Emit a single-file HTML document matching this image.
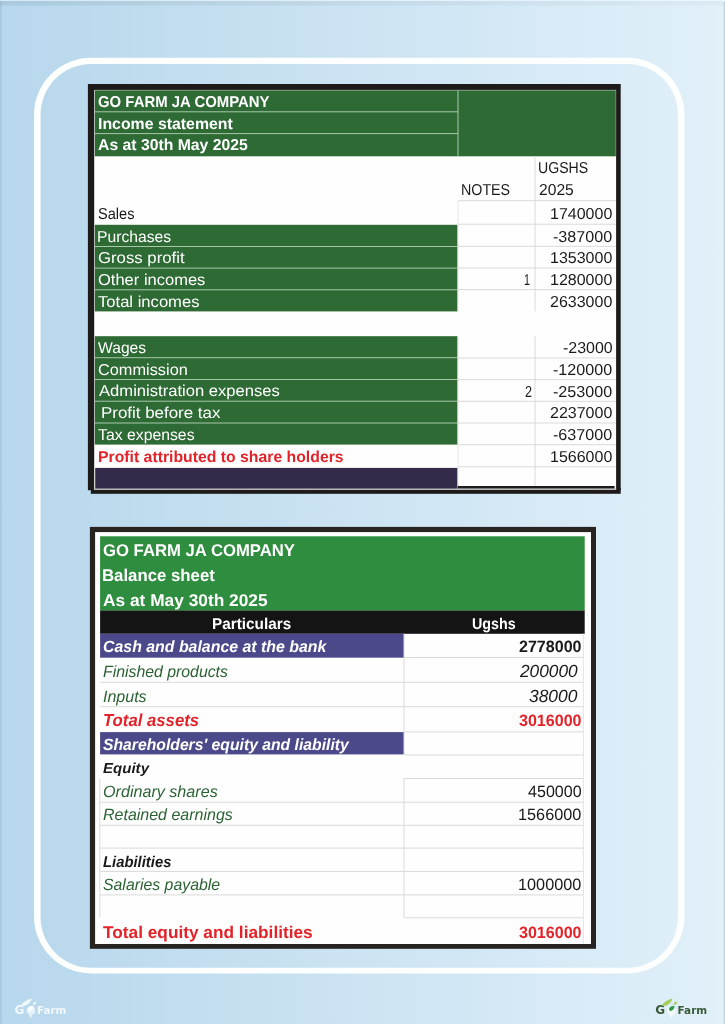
<!DOCTYPE html>
<html lang="en"><head><meta charset="utf-8"><title>GO FARM JA COMPANY</title>
<style>
html,body{margin:0;padding:0}
body{width:725px;height:1024px;position:relative;overflow:hidden;font-family:"Liberation Sans",sans-serif;
background:linear-gradient(90deg,#b7d7ec 0%,#e1f0f9 100%);}
.abs{position:absolute}
.t{position:absolute;white-space:pre;line-height:20px;height:20px;transform-origin:0 0;text-rendering:geometricPrecision}
</style></head>
<body>
<svg class="abs" style="left:0;top:0" width="725" height="1024" viewBox="0 0 725 1024">
<defs><linearGradient id="tg" x1="0" x2="1" y1="0" y2="0"><stop offset="0" stop-color="#5d7686" stop-opacity="0.14"/><stop offset="0.6" stop-color="#5d7686" stop-opacity="0.08"/><stop offset="1" stop-color="#5d7686" stop-opacity="0.04"/></linearGradient></defs>
<rect x="0" y="0" width="725" height="1" fill="#ffffff" fill-opacity="0.45"/>
<rect x="0" y="1" width="725" height="4.5" fill="url(#tg)"/>
<rect x="0" y="1" width="1.6" height="1023" fill="#5d7686" fill-opacity="0.15"/>
<rect x="723.6" y="2" width="1.4" height="1022" fill="#7d8f8f" fill-opacity="0.28"/>
<path fill="#fdfefe" fill-rule="evenodd" d="M91 57.8 H627.5 A57 57 0 0 1 684.5 114.8 V916.4 A57 57 0 0 1 627.5 973.4 H91 A57 57 0 0 1 34 916.4 V114.8 A57 57 0 0 1 91 57.8 Z M91.2 64 H627.3 A50.6 50.6 0 0 1 677.9 114.6 V917.1999999999999 A50.6 50.6 0 0 1 627.3 967.8 H91.2 A50.6 50.6 0 0 1 40.6 917.1999999999999 V114.6 A50.6 50.6 0 0 1 91.2 64 Z"/>
<rect x="87.9" y="84" width="532.8" height="406.2" fill="#1d1b1a"/>
<rect x="90.8" y="488" width="529.9" height="5.8" fill="#1d1b1a"/>
<rect x="94.2" y="89.9" width="521.9" height="400.1" fill="#fefefe"/>
<rect x="94.2" y="488.5" width="521.9" height="1.5" fill="#b9b9b9"/>
<rect x="458" y="486" width="156.6" height="2.5" fill="#1f1d1c"/>
<rect x="94.8" y="90.3" width="521.0" height="66.0" fill="#2d6a34"/>
<rect x="94.8" y="111.3" width="363.2" height="1.0" fill="#a9c8ab"/>
<rect x="94.8" y="133.1" width="363.2" height="1.0" fill="#a9c8ab"/>
<rect x="457.5" y="90.3" width="1.0" height="66.0" fill="#a9c8ab"/>
<rect x="94.8" y="224.8" width="362.8" height="86.6" fill="#2d6a34"/>
<rect x="94.8" y="246.0" width="362.8" height="1.0" fill="#a9c8ab"/>
<rect x="94.8" y="267.6" width="362.8" height="1.0" fill="#a9c8ab"/>
<rect x="94.8" y="289.3" width="362.8" height="1.0" fill="#a9c8ab"/>
<rect x="94.8" y="336.2" width="362.8" height="108.4" fill="#2d6a34"/>
<rect x="94.8" y="357.2" width="362.8" height="1.0" fill="#a9c8ab"/>
<rect x="94.8" y="379.0" width="362.8" height="1.0" fill="#a9c8ab"/>
<rect x="94.8" y="400.7" width="362.8" height="1.0" fill="#a9c8ab"/>
<rect x="94.8" y="422.5" width="362.8" height="1.0" fill="#a9c8ab"/>
<rect x="95.2" y="467.9" width="362.4" height="20.7" fill="#342b4b"/>
<rect x="458" y="200.2" width="158" height="1.0" fill="#d9d9d9"/>
<rect x="458" y="223.7" width="158" height="1.0" fill="#d9d9d9"/>
<rect x="458" y="245.8" width="158" height="1.0" fill="#d9d9d9"/>
<rect x="458" y="267.5" width="158" height="1.0" fill="#d9d9d9"/>
<rect x="458" y="289.1" width="158" height="1.0" fill="#d9d9d9"/>
<rect x="458" y="357.5" width="158" height="1.0" fill="#d9d9d9"/>
<rect x="458" y="379.2" width="158" height="1.0" fill="#d9d9d9"/>
<rect x="458" y="400.8" width="158" height="1.0" fill="#d9d9d9"/>
<rect x="458" y="422.5" width="158" height="1.0" fill="#d9d9d9"/>
<rect x="458" y="444.2" width="158" height="1.0" fill="#d9d9d9"/>
<rect x="458" y="466.3" width="158" height="1.0" fill="#d9d9d9"/>
<rect x="534.5" y="156" width="1.0" height="155.4" fill="#d9d9d9"/>
<rect x="534.5" y="336.2" width="1.0" height="149.8" fill="#d9d9d9"/>
<rect x="457.5" y="200.7" width="1.0" height="110.7" fill="#e6e6e6"/>
<rect x="457.5" y="336.2" width="1.0" height="149.8" fill="#e6e6e6"/>
<rect x="89.9" y="526.9" width="506.1" height="421.9" fill="#262321"/>
<rect x="95.1" y="532.1" width="495.9" height="411.9" fill="#fefefe"/>
<rect x="100.1" y="536.3" width="484.6" height="74.3" fill="#2e8d3e"/>
<rect x="100.1" y="610.5" width="484.6" height="23.3" fill="#151414"/>
<rect x="100.1" y="633.7" width="303.9" height="24.0" fill="#4c498a"/>
<rect x="100.1" y="732.1" width="303.9" height="22.3" fill="#4c498a"/>
<rect x="404" y="656.9" width="180" height="1.0" fill="#d9d9d9"/>
<rect x="404" y="731.4" width="180" height="1.0" fill="#d9d9d9"/>
<rect x="404" y="754.5" width="180" height="1.0" fill="#d9d9d9"/>
<rect x="404" y="778.0" width="180" height="1.0" fill="#d9d9d9"/>
<rect x="404" y="917.3" width="180" height="1.0" fill="#d9d9d9"/>
<rect x="100.1" y="681.8" width="483.9" height="1.0" fill="#d9d9d9"/>
<rect x="100.1" y="706.2" width="483.9" height="1.0" fill="#d9d9d9"/>
<rect x="100.1" y="801.7" width="483.9" height="1.0" fill="#d9d9d9"/>
<rect x="100.1" y="824.8" width="483.9" height="1.0" fill="#d9d9d9"/>
<rect x="100.1" y="847.6" width="483.9" height="1.0" fill="#d9d9d9"/>
<rect x="100.1" y="870.9" width="483.9" height="1.0" fill="#d9d9d9"/>
<rect x="100.1" y="894.4" width="483.9" height="1.0" fill="#d9d9d9"/>
<rect x="403.5" y="633.7" width="1.0" height="121.3" fill="#d9d9d9"/>
<rect x="403.5" y="778.5" width="1.0" height="139.3" fill="#d9d9d9"/>
<rect x="582.9" y="633.7" width="1.0" height="310.3" fill="#e4e4e4"/>
<rect x="99.3" y="778.5" width="1.0" height="139.0" fill="#d9d9d9"/>
<g transform="translate(14.3 996)">
<text x="0.2" y="18.1" font-family="DejaVu Sans, sans-serif" font-weight="700" font-size="12" fill="#f1f8fc">G</text>
<circle cx="16.6" cy="14.6" r="4.4" fill="#e6f2f9"/>
<path d="M6.5 9.5 C9 6 13 3.5 17.5 2.5 C16.5 6.5 13 9.5 9.5 10 Z" fill="#eef7fc"/>
<path d="M18.5 7.5 C19.5 6 21 5.5 22.5 5.8 C22 7.8 20.5 9 18.8 9 Z" fill="#eef7fc"/>
<path d="M14 12.5 C15.5 10.2 17.8 9.6 19.6 10.4 C19.2 13.2 17.2 15 14.6 15 Z" fill="#ffffff"/>
<path d="M14.5 18.5 L16.5 22.5 L18 18.8 Z" fill="#e6f2f9"/>
<text x="22.6" y="18.1" font-family="DejaVu Sans, sans-serif" font-weight="700" font-size="10" fill="#f1f8fc" textLength="29.6" lengthAdjust="spacingAndGlyphs">Farm</text>
</g>
<g transform="translate(655 996)">
<text x="0.2" y="18.1" font-family="DejaVu Sans, sans-serif" font-weight="700" font-size="12" fill="#3a5a36">G</text>
<circle cx="16.6" cy="14.6" r="4.4" fill="#f3f9fb"/>
<path d="M6.5 9.5 C9 6 13 3.5 17.5 2.5 C16.5 6.5 13 9.5 9.5 10 Z" fill="#a5cf5c"/>
<path d="M18.5 7.5 C19.5 6 21 5.5 22.5 5.8 C22 7.8 20.5 9 18.8 9 Z" fill="#a5cf5c"/>
<path d="M14 12.5 C15.5 10.2 17.8 9.6 19.6 10.4 C19.2 13.2 17.2 15 14.6 15 Z" fill="#2f9a48"/>
<path d="M14.5 18.5 L16.5 22.5 L18 18.8 Z" fill="#f3f9fb"/>
<text x="22.6" y="18.1" font-family="DejaVu Sans, sans-serif" font-weight="700" font-size="10" fill="#3a5a36" textLength="29.6" lengthAdjust="spacingAndGlyphs">Farm</text>
</g>
</svg>
<div class="t" style="left:97.89px;top:93px;font-size:15.8px;font-weight:700;color:#ffffff;transform:scaleX(0.944);">GO FARM JA COMPANY</div>
<div class="t" style="left:97.6px;top:115px;font-size:15.8px;font-weight:700;color:#ffffff;transform:scaleX(1.0034);">Income statement</div>
<div class="t" style="left:98.1px;top:136px;font-size:15.8px;font-weight:700;color:#ffffff;transform:scaleX(0.9977);">As at 30th May 2025</div>
<div class="t" style="left:460.67px;top:181px;font-size:15.8px;font-weight:400;color:#1a1a1a;transform:scaleX(0.9029);">NOTES</div>
<div class="t" style="left:538.18px;top:159px;font-size:15.8px;font-weight:400;color:#1a1a1a;transform:scaleX(0.8922);">UGSHS</div>
<div class="t" style="left:538.56px;top:181px;font-size:15.8px;font-weight:400;color:#1a1a1a;transform:scaleX(0.9896);">2025</div>
<div class="t" style="left:97.91px;top:205px;font-size:15.8px;font-weight:400;color:#1a1a1a;transform:scaleX(0.9229);">Sales</div>
<div class="t" style="left:97.36px;top:228px;font-size:15.8px;font-weight:400;color:#ffffff;transform:scaleX(0.9938);">Purchases</div>
<div class="t" style="left:97.8px;top:249px;font-size:15.8px;font-weight:400;color:#ffffff;transform:scaleX(1.0601);">Gross profit</div>
<div class="t" style="left:97.82px;top:271px;font-size:15.8px;font-weight:400;color:#ffffff;transform:scaleX(1.0453);">Other incomes</div>
<div class="t" style="left:98.34px;top:293px;font-size:15.8px;font-weight:400;color:#ffffff;transform:scaleX(1.0507);">Total incomes</div>
<div class="t" style="left:98.35px;top:339px;font-size:15.8px;font-weight:400;color:#ffffff;transform:scaleX(0.9906);">Wages</div>
<div class="t" style="left:97.82px;top:361px;font-size:15.8px;font-weight:400;color:#ffffff;transform:scaleX(1.0334);">Commission</div>
<div class="t" style="left:98.6px;top:382px;font-size:15.8px;font-weight:400;color:#ffffff;transform:scaleX(1.0507);">Administration expenses</div>
<div class="t" style="left:101.26px;top:404px;font-size:15.8px;font-weight:400;color:#ffffff;transform:scaleX(1.0709);">Profit before tax</div>
<div class="t" style="left:98.35px;top:426px;font-size:15.8px;font-weight:400;color:#ffffff;transform:scaleX(0.9995);">Tax expenses</div>
<div class="t" style="left:97.6px;top:448px;font-size:15.8px;font-weight:700;color:#e3232a;transform:scaleX(0.9994);">Profit attributed to share holders</div>
<div class="t" style="left:550.23px;top:205px;font-size:15.8px;font-weight:400;color:#1a1a1a;transform:scaleX(1.0134);">1740000</div>
<div class="t" style="left:553.44px;top:228px;font-size:15.8px;font-weight:400;color:#1a1a1a;transform:scaleX(1.0195);">-387000</div>
<div class="t" style="left:550.23px;top:249px;font-size:15.8px;font-weight:400;color:#1a1a1a;transform:scaleX(1.0134);">1353000</div>
<div class="t" style="left:524.45px;top:271px;font-size:15.8px;font-weight:400;color:#1a1a1a;transform:scaleX(0.6815);">1</div>
<div class="t" style="left:550.23px;top:271px;font-size:15.8px;font-weight:400;color:#1a1a1a;transform:scaleX(1.0134);">1280000</div>
<div class="t" style="left:550.24px;top:293px;font-size:15.8px;font-weight:400;color:#1a1a1a;transform:scaleX(1.0133);">2633000</div>
<div class="t" style="left:562.74px;top:339px;font-size:15.8px;font-weight:400;color:#1a1a1a;transform:scaleX(1.0115);">-23000</div>
<div class="t" style="left:553.44px;top:361px;font-size:15.8px;font-weight:400;color:#1a1a1a;transform:scaleX(1.0195);">-120000</div>
<div class="t" style="left:525.0px;top:383px;font-size:15.8px;font-weight:400;color:#1a1a1a;transform:scaleX(0.8);">2</div>
<div class="t" style="left:553.44px;top:383px;font-size:15.8px;font-weight:400;color:#1a1a1a;transform:scaleX(1.0195);">-253000</div>
<div class="t" style="left:550.24px;top:404px;font-size:15.8px;font-weight:400;color:#1a1a1a;transform:scaleX(1.0133);">2237000</div>
<div class="t" style="left:553.44px;top:426px;font-size:15.8px;font-weight:400;color:#1a1a1a;transform:scaleX(1.0195);">-637000</div>
<div class="t" style="left:550.23px;top:448px;font-size:15.8px;font-weight:400;color:#1a1a1a;transform:scaleX(1.0134);">1566000</div>
<div class="t" style="left:102.96px;top:541px;font-size:17.0px;font-weight:700;color:#ffffff;transform:scaleX(0.982);">GO FARM JA COMPANY</div>
<div class="t" style="left:102.47px;top:566px;font-size:17.0px;font-weight:700;color:#ffffff;transform:scaleX(0.9867);">Balance sheet</div>
<div class="t" style="left:103.19px;top:591px;font-size:17.0px;font-weight:700;color:#ffffff;transform:scaleX(1.0187);">As at May 30th 2025</div>
<div class="t" style="left:212.12px;top:615px;font-size:15.6px;font-weight:700;color:#ffffff;transform:scaleX(0.9823);">Particulars</div>
<div class="t" style="left:472.08px;top:615px;font-size:15.6px;font-weight:700;color:#ffffff;transform:scaleX(0.9196);">Ugshs</div>
<div class="t" style="left:102.97px;top:637px;font-size:16.3px;font-weight:700;color:#ffffff;transform:scaleX(0.9757);font-style:italic;">Cash and balance at the bank</div>
<div class="t" style="left:518.71px;top:637px;font-size:16.4px;font-weight:700;color:#1a1a1a;transform:scaleX(0.9801);">2778000</div>
<div class="t" style="left:103.21px;top:662px;font-size:16.3px;font-weight:400;color:#2b6233;transform:scaleX(0.9722);font-style:italic;">Finished products</div>
<div class="t" style="left:519.8px;top:661px;font-size:17.7px;font-weight:400;color:#1a1a1a;transform:scaleX(0.9763);font-style:italic;">200000</div>
<div class="t" style="left:102.96px;top:687px;font-size:16.3px;font-weight:400;color:#2b6233;transform:scaleX(0.9827);font-style:italic;">Inputs</div>
<div class="t" style="left:529.21px;top:686px;font-size:17.7px;font-weight:400;color:#1a1a1a;transform:scaleX(0.9835);font-style:italic;">38000</div>
<div class="t" style="left:102.5px;top:710px;font-size:17.4px;font-weight:700;color:#e3232a;transform:scaleX(0.9622);font-style:italic;">Total assets</div>
<div class="t" style="left:518.71px;top:711px;font-size:16.4px;font-weight:700;color:#e3232a;transform:scaleX(0.9801);">3016000</div>
<div class="t" style="left:103.46px;top:735px;font-size:16.3px;font-weight:700;color:#ffffff;transform:scaleX(0.9657);font-style:italic;">Shareholders' equity and liability</div>
<div class="t" style="left:103.44px;top:759px;font-size:14.4px;font-weight:700;color:#1a1a1a;transform:scaleX(1.0463);font-style:italic;">Equity</div>
<div class="t" style="left:102.71px;top:782px;font-size:16.3px;font-weight:400;color:#2b6233;transform:scaleX(0.9904);font-style:italic;">Ordinary shares</div>
<div class="t" style="left:527.85px;top:782px;font-size:16.4px;font-weight:400;color:#1a1a1a;transform:scaleX(0.9805);">450000</div>
<div class="t" style="left:103.21px;top:805px;font-size:16.3px;font-weight:400;color:#2b6233;transform:scaleX(0.9821);font-style:italic;">Retained earnings</div>
<div class="t" style="left:517.86px;top:805px;font-size:16.4px;font-weight:400;color:#1a1a1a;transform:scaleX(0.9935);">1566000</div>
<div class="t" style="left:103.46px;top:853px;font-size:15.5px;font-weight:700;color:#1a1a1a;transform:scaleX(0.9569);font-style:italic;">Liabilities</div>
<div class="t" style="left:103.21px;top:875px;font-size:16.3px;font-weight:400;color:#2b6233;transform:scaleX(0.9727);font-style:italic;">Salaries payable</div>
<div class="t" style="left:517.86px;top:875px;font-size:16.4px;font-weight:400;color:#1a1a1a;transform:scaleX(0.9935);">1000000</div>
<div class="t" style="left:103.45px;top:923px;font-size:17.0px;font-weight:700;color:#e3232a;transform:scaleX(1.0153);">Total equity and liabilities</div>
<div class="t" style="left:518.71px;top:923px;font-size:16.4px;font-weight:700;color:#e3232a;transform:scaleX(0.9801);">3016000</div>
</body></html>
